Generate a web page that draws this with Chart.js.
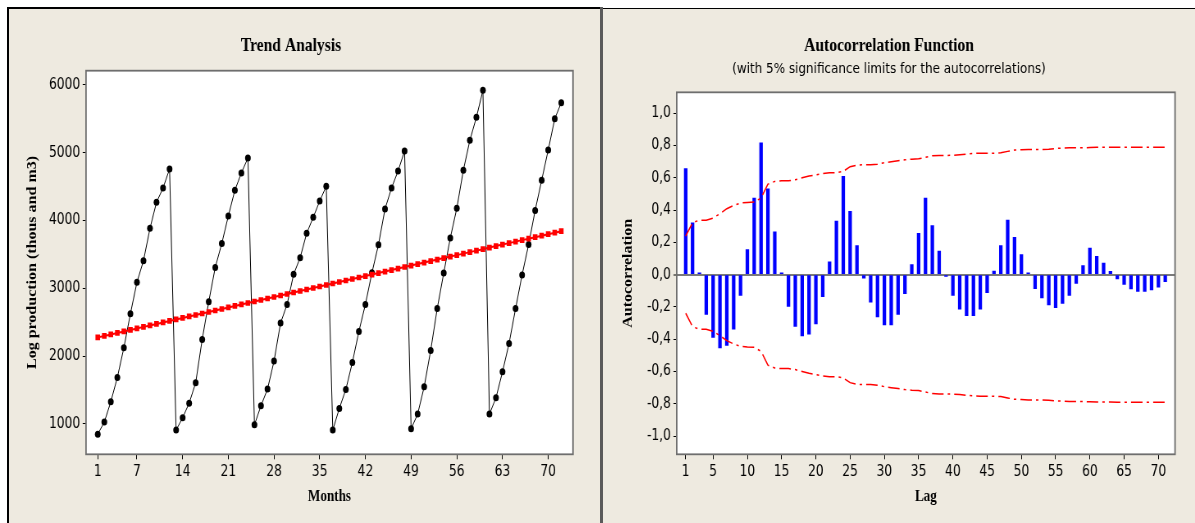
<!DOCTYPE html>
<html lang="en">
<head>
  <meta charset="UTF-8" />
  <title>Trend Analysis - Autocorrelation Function</title>
  <script src="https://cdn.jsdelivr.net/npm/chart.js"></script>
  <style>
    body { margin: 0; background: #fff; width: 1195px; height: 523px; overflow: hidden; position: relative; }
    .panel { position: absolute; background: #eeeae0; }
    #leftPanel { left: 7px; top: 7px; width: 593px; height: 516px; border-top: 2px solid #000; border-left: 2px solid #000; }
    #rightPanel { left: 603px; top: 8px; width: 592px; height: 515px; border-top: 1px solid #000; }
    #divider { position: absolute; left: 600px; top: 7px; width: 3px; height: 516px; background: #5a5a5a; }
    /* the source graph is squeezed sideways, so the canvases are too */
    canvas { position: absolute; top: 10px; transform: scaleX(0.82); transform-origin: 0 0; }
    #trendChart { left: 9px; }
    #acfChart { left: 603px; }
  </style>
</head>
<body>
<div class="panel" id="leftPanel"></div>
<div class="panel" id="rightPanel"></div>
<div id="divider"></div>
<canvas id="trendChart" width="721" height="513"></canvas>
<canvas id="acfChart" width="722" height="513"></canvas>
<script>
// Trend analysis (months 1..72)
const production = [
  847, 1025, 1325, 1684, 2122, 2624, 3087, 3406, 3884, 4268, 4479, 4760,
  907, 1089, 1305, 1605, 2245, 2801, 3308, 3662, 4066, 4445, 4701, 4922,
  985, 1266, 1512, 1925, 2486, 2760, 3205, 3451, 3810, 4046, 4287, 4504,
  907, 1226, 1507, 1905, 2363, 2762, 3229, 3643, 4169, 4479, 4730, 5025,
  926, 1143, 1546, 2083, 2703, 3224, 3741, 4179, 4740, 5183, 5522, 5921,
  1143, 1384, 1767, 2184, 2700, 3197, 3644, 4149, 4594, 5040, 5500, 5738
];
const trendFit = [
  2275, 2297, 2319, 2341, 2363, 2385, 2407, 2430, 2452, 2474, 2496, 2518,
  2540, 2562, 2584, 2606, 2628, 2650, 2672, 2694, 2717, 2739, 2761, 2783,
  2805, 2827, 2849, 2871, 2893, 2915, 2937, 2959, 2981, 3004, 3026, 3048,
  3070, 3092, 3114, 3136, 3158, 3180, 3202, 3224, 3246, 3268, 3290, 3313,
  3335, 3357, 3379, 3401, 3423, 3445, 3467, 3489, 3511, 3533, 3555, 3577,
  3600, 3622, 3644, 3666, 3688, 3710, 3732, 3754, 3776, 3798, 3820, 3842
];
const monthTicks = [1, 7, 14, 21, 28, 35, 42, 49, 56, 63, 70];
const productionTicks = [1000, 2000, 3000, 4000, 5000, 6000];

// Autocorrelation (lags 1..71)
const acfValues = [
  0.658, 0.322, 0.012, -0.246, -0.388, -0.454, -0.438, -0.338, -0.128, 0.155,
  0.475, 0.817, 0.532, 0.266, 0.012, -0.196, -0.320, -0.380, -0.369, -0.305,
  -0.136, 0.080, 0.332, 0.609, 0.392, 0.180, -0.021, -0.171, -0.262, -0.312,
  -0.312, -0.246, -0.118, 0.062, 0.256, 0.475, 0.305, 0.147, -0.010, -0.128,
  -0.213, -0.254, -0.254, -0.213, -0.111, 0.023, 0.180, 0.338, 0.231, 0.124,
  0.012, -0.087, -0.144, -0.188, -0.204, -0.178, -0.128, -0.054, 0.056, 0.165,
  0.114, 0.072, 0.020, -0.027, -0.060, -0.089, -0.103, -0.103, -0.095, -0.078,
  -0.043
];
const upperLimit = [
  0.239, 0.322, 0.338, 0.338, 0.351, 0.378, 0.409, 0.429, 0.444, 0.448,
  0.450, 0.475, 0.561, 0.578, 0.582, 0.582, 0.588, 0.600, 0.611, 0.619,
  0.627, 0.632, 0.632, 0.640, 0.669, 0.679, 0.681, 0.681, 0.685, 0.694,
  0.700, 0.706, 0.712, 0.716, 0.718, 0.727, 0.737, 0.739, 0.739, 0.740,
  0.743, 0.747, 0.751, 0.753, 0.753, 0.753, 0.755, 0.764, 0.772, 0.774,
  0.776, 0.776, 0.776, 0.778, 0.782, 0.784, 0.786, 0.786, 0.786, 0.788,
  0.789, 0.789, 0.789, 0.790, 0.790, 0.790, 0.790, 0.790, 0.790, 0.790,
  0.790
];
const lowerLimit = [
  -0.239, -0.322, -0.338, -0.338, -0.351, -0.378, -0.409, -0.429, -0.444, -0.448,
  -0.450, -0.475, -0.561, -0.578, -0.582, -0.582, -0.588, -0.600, -0.611, -0.619,
  -0.627, -0.632, -0.632, -0.640, -0.669, -0.679, -0.681, -0.681, -0.685, -0.694,
  -0.700, -0.706, -0.712, -0.716, -0.718, -0.727, -0.737, -0.739, -0.739, -0.740,
  -0.743, -0.747, -0.751, -0.753, -0.753, -0.753, -0.755, -0.764, -0.772, -0.774,
  -0.776, -0.776, -0.776, -0.778, -0.782, -0.784, -0.786, -0.786, -0.786, -0.788,
  -0.789, -0.789, -0.789, -0.790, -0.790, -0.790, -0.790, -0.790, -0.790, -0.790,
  -0.790
];
const lagTicks = [1, 5, 10, 15, 20, 25, 30, 35, 40, 45, 50, 55, 60, 65, 70];
const acfTicks = [-1.0, -0.8, -0.6, -0.4, -0.2, 0.0, 0.2, 0.4, 0.6, 0.8, 1.0];

const SANS = "'DejaVu Sans', 'Liberation Sans', sans-serif";
const SERIF = "'Liberation Serif', 'DejaVu Serif', serif";
Chart.defaults.font.family = SANS;
Chart.defaults.font.size = 15;
Chart.defaults.color = '#000';

const toPoints = vals => vals.map((v, i) => ({ x: i + 1, y: v }));

// white plot area with a grey frame, like Minitab
const plotFrame = {
  id: 'plotFrame',
  beforeDraw(chart) {
    const { ctx, chartArea: a } = chart;
    ctx.save();
    ctx.fillStyle = '#fff';
    ctx.fillRect(a.left, a.top, a.width, a.height);
    ctx.restore();
  },
  afterDraw(chart) {
    const { ctx, chartArea: a } = chart;
    ctx.save();
    ctx.strokeStyle = '#6e6e6e';
    ctx.lineWidth = 1.8;
    ctx.strokeRect(a.left, a.top, a.width, a.height);
    ctx.restore();
  }
};

const tickGrid = len => ({ drawOnChartArea: false, tickLength: len, tickColor: '#000', tickWidth: 1, offset: false });

new Chart(document.getElementById('trendChart'), {
  type: 'line',
  data: {
    datasets: [
      {
        label: 'Fits',
        data: toPoints(trendFit),
        borderColor: '#ff0000',
        borderWidth: 2,
        backgroundColor: '#ff0000',
        pointStyle: 'rect',
        pointRadius: 4,
        pointBorderWidth: 0,
        order: 0
      },
      {
        label: 'Actual',
        data: toPoints(production),
        borderColor: '#000',
        borderWidth: 1,
        backgroundColor: '#000',
        pointRadius: 3.5,
        pointBorderWidth: 0,
        order: 1
      }
    ]
  },
  options: {
    responsive: false,
    animation: false,
    devicePixelRatio: 1,
    events: [],
    layout: { padding: { left: 0, right: 33.2, top: 0, bottom: 0 } },
    plugins: {
      legend: { display: false },
      tooltip: { enabled: false },
      title: {
        display: true,
        text: 'Trend Analysis',
        color: '#000',
        font: { family: SERIF, size: 19, weight: 'bold' },
        padding: { top: 24.6, bottom: 13.3 }
      }
    },
    scales: {
      x: {
        type: 'linear', min: -0.8, max: 73.8, offset: false,
        afterBuildTicks: s => { s.ticks = monthTicks.map(v => ({ value: v })); },
        afterFit: s => { s.height = 68.7; },
        grid: tickGrid(5),
        border: { display: false },
        ticks: { padding: 4, autoSkip: false, maxRotation: 0, callback: v => String(v) },
        title: {
          display: true, text: 'Months', color: '#000',
          font: { family: SERIF, size: 16, weight: 'bold' },
          padding: { top: 0, bottom: 16.4 }
        }
      },
      y: {
        type: 'linear', min: 550, max: 6210,
        afterBuildTicks: s => { s.ticks = productionTicks.map(v => ({ value: v })); },
        afterFit: s => { s.width = 93.9; },
        grid: tickGrid(4),
        border: { display: false },
        ticks: { padding: 3, callback: v => String(v) },
        title: {
          display: true, text: 'Log production (thous and m3)', color: '#000',
          font: { family: SERIF, size: 16, weight: 'bold' },
          padding: { top: 19.7, bottom: 0 }
        }
      }
    }
  },
  plugins: [plotFrame]
});

new Chart(document.getElementById('acfChart'), {
  type: 'bar',
  data: {
    datasets: [
      {
        type: 'line',
        label: 'Upper limit',
        data: toPoints(upperLimit),
        borderColor: '#ff0000',
        borderWidth: 1.5,
        borderDash: [14, 5, 3, 5],
        pointRadius: 0,
        order: 0
      },
      {
        type: 'line',
        label: 'Lower limit',
        data: toPoints(lowerLimit),
        borderColor: '#ff0000',
        borderWidth: 1.5,
        borderDash: [14, 5, 3, 5],
        pointRadius: 0,
        order: 0
      },
      {
        type: 'bar',
        label: 'ACF',
        data: toPoints(acfValues),
        backgroundColor: '#0000ff',
        borderWidth: 0,
        barThickness: 3.6,
        order: 1
      }
    ]
  },
  options: {
    responsive: false,
    animation: false,
    devicePixelRatio: 1,
    events: [],
    layout: { padding: { left: 0, right: 24.4, top: 0, bottom: 0 } },
    plugins: {
      legend: { display: false },
      tooltip: { enabled: false },
      title: {
        display: true,
        text: 'Autocorrelation Function',
        color: '#000',
        font: { family: SERIF, size: 19, weight: 'bold' },
        padding: { top: 24.6, bottom: 0 }
      },
      subtitle: {
        display: true,
        text: '(with 5% significance limits for the autocorrelations)',
        color: '#000',
        font: { family: SANS, size: 14.6, weight: 'normal' },
        padding: { top: 3.3, bottom: 14.1 }
      }
    },
    scales: {
      x: {
        type: 'linear', min: -0.31, max: 72.43, offset: false,
        afterBuildTicks: s => { s.ticks = lagTicks.map(v => ({ value: v })); },
        afterFit: s => { s.height = 68.7; },
        grid: tickGrid(5),
        border: { display: false },
        ticks: { padding: 4, autoSkip: false, maxRotation: 0, callback: v => String(v) },
        title: {
          display: true, text: 'Lag', color: '#000',
          font: { family: SERIF, size: 16, weight: 'bold' },
          padding: { top: 0, bottom: 16.4 }
        }
      },
      y: {
        type: 'linear', min: -1.113, max: 1.13,
        afterBuildTicks: s => { s.ticks = acfTicks.map(v => ({ value: v })); },
        afterFit: s => { s.width = 89.9; },
        grid: {
          drawOnChartArea: true,
          tickLength: 4,
          tickColor: '#000',
          tickWidth: 1,
          color: c => (c.tick && Math.abs(c.tick.value) < 1e-9) ? '#7a7a7a' : 'rgba(0,0,0,0)',
          lineWidth: c => (c.tick && Math.abs(c.tick.value) < 1e-9) ? 2 : 1
        },
        border: { display: false },
        ticks: { padding: 3, callback: v => v.toFixed(1).replace('.', ',') },
        title: {
          display: true, text: 'Autocorrelation', color: '#000',
          font: { family: SERIF, size: 16, weight: 'bold' },
          padding: { top: 20.9, bottom: 0 }
        }
      }
    }
  },
  plugins: [plotFrame]
});
</script>
</body>
</html>
